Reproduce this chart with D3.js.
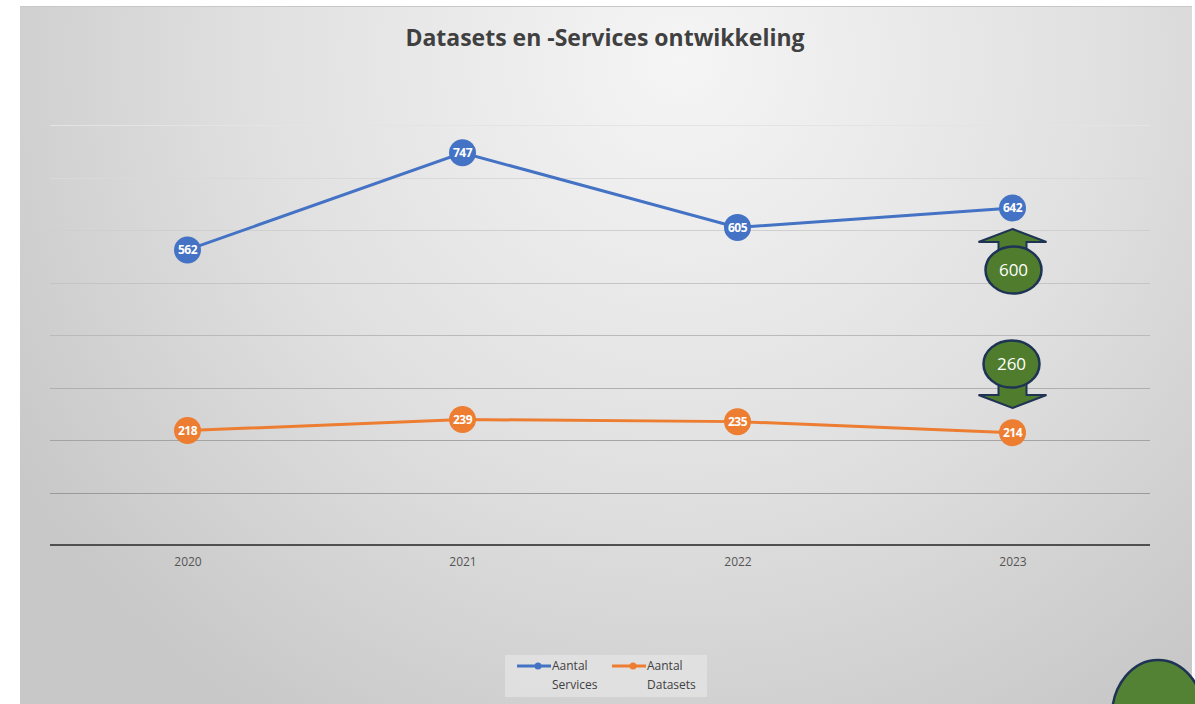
<!DOCTYPE html>
<html><head><meta charset="utf-8">
<script src="https://cdn.jsdelivr.net/npm/d3@7"></script>
<style>html,body{margin:0;padding:0;background:#fff;}svg{display:block;}</style>
</head><body>
<script>
const years = ["2020","2021","2022","2023"];
const services = [562, 747, 605, 642];
const datasets = [218, 239, 235, 214];
const yTicks = [0,100,200,300,400,500,600,700,800];
const title = "Datasets en -Services ontwikkeling";
const seriesNames = [["Aantal","Services"],["Aantal","Datasets"]];
const targetUp = 600, targetDown = 260;

const W = 1195, H = 704;
const svg = d3.select("body").append("svg").attr("width", W).attr("height", H);
const defs = svg.append("defs");
const rg = defs.append("radialGradient").attr("id","bg").attr("gradientUnits","userSpaceOnUse")
  .attr("cx",680).attr("cy",60).attr("r",780).attr("fx",680).attr("fy",60);
rg.append("stop").attr("offset","0%").attr("stop-color","#f5f5f5");
rg.append("stop").attr("offset","55%").attr("stop-color","#e0e0e0");
rg.append("stop").attr("offset","100%").attr("stop-color","#c8c8c8");
svg.append("rect").attr("x",20).attr("y",6).attr("width",1172).attr("height",H-6).attr("fill","url(#bg)");
svg.append("line").attr("x1",20).attr("x2",1192).attr("y1",6.5).attr("y2",6.5).attr("stroke","#c8c8c8");

const x = d3.scalePoint().domain(years).range([50,1150]).padding(0.5);
const y = d3.scaleLinear().domain([0,800]).range([545,125]);

// gridlines
const gridCol = d3.scaleLinear().domain([125,492]).range(["#e4e4e4","#9a9a9a"]);
svg.append("g").selectAll("line").data(yTicks.filter(d=>d>0)).join("line")
  .attr("x1",50).attr("x2",1150).attr("y1",d=>Math.round(y(d))+0.5).attr("y2",d=>Math.round(y(d))+0.5)
  .attr("stroke",d=>gridCol(y(d))).attr("stroke-width",1);

// x axis
const xa = svg.append("g").attr("transform","translate(0,545)")
  .call(d3.axisBottom(x).tickSize(0).tickPadding(12));
xa.select(".domain").remove();
xa.append("line").attr("x1",50).attr("x2",1150).attr("stroke","#505050").attr("stroke-width",2);
xa.selectAll("text").attr("font-family","'Open Sans', sans-serif").attr("font-size",12).attr("fill","#555");

svg.append("text").attr("x",605).attr("y",46).attr("text-anchor","middle")
  .attr("font-family","'Open Sans', sans-serif").attr("font-weight","bold").attr("font-size",23)
  .attr("fill","#404040").text(title);

const series = [{vals:services,color:"#4472c4"},{vals:datasets,color:"#ed7d31"}];
const line = d3.line().x((d,i)=>x(years[i])).y(d=>y(d));
series.forEach(s=>{
  svg.append("path").attr("d",line(s.vals)).attr("fill","none").attr("stroke",s.color).attr("stroke-width",3);
  const g = svg.append("g").selectAll("g").data(s.vals).join("g")
    .attr("transform",(d,i)=>`translate(${x(years[i])},${y(d)})`);
  g.append("circle").attr("r",13.5).attr("fill",s.color);
  g.append("text").attr("text-anchor","middle").attr("dy","0.36em")
    .attr("font-family","'Open Sans', sans-serif").attr("font-weight","bold").attr("font-size",12)
    .attr("letter-spacing","-0.6").attr("fill","#fff").text(d=>d);
});

// target arrows
const green = "#4f7d2d", navy = "#1f3355";
function arrowUp(cx, tipY){
  const p = `M${cx},${tipY} L${cx+34},${tipY+13} L${cx+14},${tipY+13} L${cx+14},${tipY+24} L${cx-14},${tipY+24} L${cx-14},${tipY+13} L${cx-34},${tipY+13} Z`;
  svg.append("path").attr("d",p).attr("fill",green).attr("stroke",navy).attr("stroke-width",2);
}
function arrowDown(cx, tipY){
  const p = `M${cx},${tipY} L${cx+34},${tipY-13} L${cx+14},${tipY-13} L${cx+14},${tipY-24} L${cx-14},${tipY-24} L${cx-14},${tipY-13} L${cx-34},${tipY-13} Z`;
  svg.append("path").attr("d",p).attr("fill",green).attr("stroke",navy).attr("stroke-width",2);
}
function bubble(cx, cy, label){
  svg.append("ellipse").attr("cx",cx).attr("cy",cy).attr("rx",28).attr("ry",23.5)
    .attr("fill",green).attr("stroke",navy).attr("stroke-width",2.5);
  svg.append("text").attr("x",cx).attr("y",cy).attr("dy","0.36em").attr("text-anchor","middle")
    .attr("font-family","'Open Sans', sans-serif").attr("font-size",17).attr("fill","#fff").text(label);
}
const xc = x("2023");
arrowUp(xc, 229);
bubble(xc+1, 270, targetUp);
arrowDown(xc, 408);
bubble(xc-1, 364, targetDown);

// bottom-right shape
svg.append("ellipse").attr("cx",1158).attr("cy",716).attr("rx",46).attr("ry",56)
  .attr("fill","#548235").attr("stroke",navy).attr("stroke-width",2.5);

// legend
const lg = svg.append("g");
lg.append("rect").attr("x",505).attr("y",655).attr("width",202).attr("height",42).attr("fill","#e6e6e6").attr("opacity",0.7);
const lItems = [{x:517,tx:552,color:"#4472c4",name:seriesNames[0]},{x:612,tx:647,color:"#ed7d31",name:seriesNames[1]}];
lItems.forEach(it=>{
  lg.append("line").attr("x1",it.x).attr("x2",it.x+34).attr("y1",666).attr("y2",666).attr("stroke",it.color).attr("stroke-width",3);
  lg.append("circle").attr("cx",it.x+21).attr("cy",666).attr("r",3.5).attr("fill",it.color);
  const t = lg.append("text").attr("font-family","'Open Sans', sans-serif").attr("font-size",12).attr("fill","#404040");
  t.append("tspan").attr("x",it.tx).attr("y",670).text(it.name[0]);
  t.append("tspan").attr("x",it.tx).attr("y",689).text(it.name[1]);
});
</script>
</body></html>
